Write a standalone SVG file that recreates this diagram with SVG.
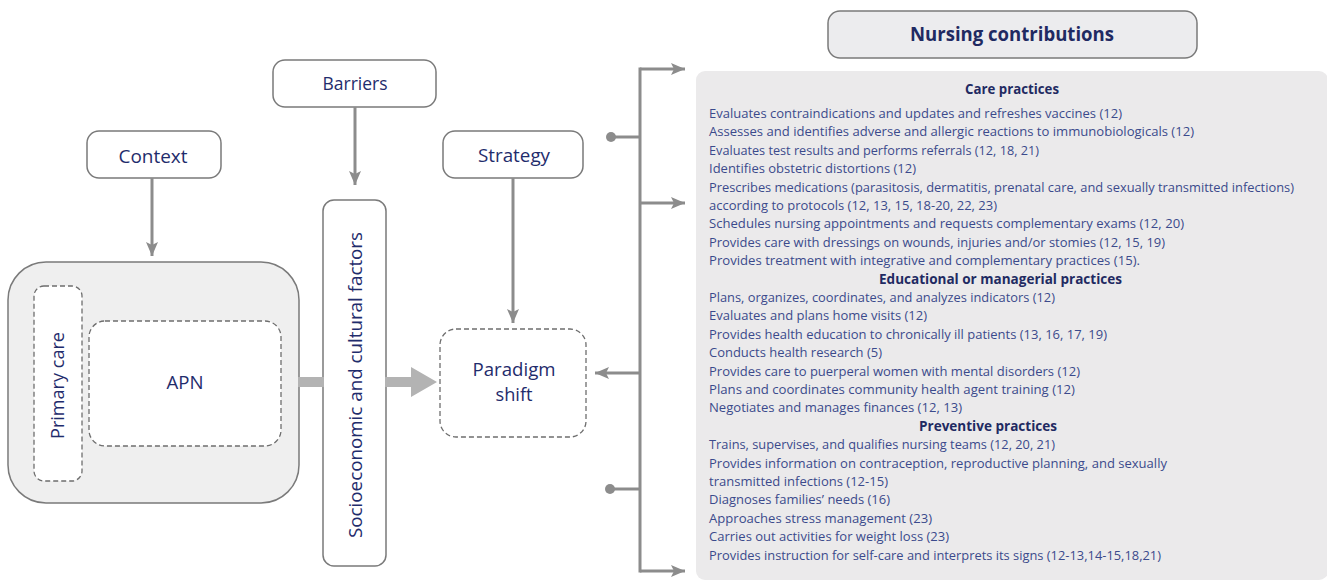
<svg xmlns="http://www.w3.org/2000/svg" width="1327" height="581" viewBox="0 0 1327 581">
<defs>
<style>
.box{fill:#fff;stroke:#7a7a7a;stroke-width:1.5}
.dash{fill:#fff;stroke:#6e6e6e;stroke-width:1.3;stroke-dasharray:5 3}
.lbl{font-family:"Open Sans","Liberation Sans",sans-serif;font-size:19px;fill:#1f2c6c;text-anchor:middle}
.con{fill:none;stroke:#8c8c8c;stroke-width:3}
.item{font-family:"Open Sans","Liberation Sans",sans-serif;font-size:13.5px;fill:#3b4a8c}
.hd{font-family:"Open Sans","Liberation Sans",sans-serif;font-size:13.5px;font-weight:bold;fill:#1f2a62;text-anchor:middle}
</style>
<marker id="ah" viewBox="0 0 14 12" markerWidth="14" markerHeight="12" refX="14" refY="6" orient="auto" markerUnits="userSpaceOnUse">
<path d="M0,0 L14,6 L0,12 L3,6 z" fill="#8c8c8c"/>
</marker>
</defs>
<rect width="1327" height="581" fill="#fff"/>

<g id="context-group">
<rect x="8" y="262" width="291" height="241" rx="38" fill="#efefef" stroke="#7a7a7a" stroke-width="1.5"/>
</g>
<g id="primary-care">
<rect class="dash" x="34" y="286" width="48" height="195" rx="10"/>
<text class="lbl" transform="translate(64 385.5) rotate(-90)" x="0" y="0" textLength="107" lengthAdjust="spacingAndGlyphs">Primary care</text>
</g>
<g id="apn">
<rect class="dash" x="89" y="321" width="192" height="125" rx="16"/>
<text class="lbl" x="185" y="389" textLength="37" lengthAdjust="spacingAndGlyphs">APN</text>
</g>
<g id="context">
<rect class="box" x="87" y="131" width="134" height="47" rx="12"/>
<text class="lbl" x="153" y="163" textLength="69" lengthAdjust="spacingAndGlyphs">Context</text>
</g>
<g id="barriers">
<rect class="box" x="273" y="60" width="163" height="47" rx="12"/>
<text class="lbl" x="355" y="90" textLength="65" lengthAdjust="spacingAndGlyphs">Barriers</text>
</g>
<g id="strategy">
<rect class="box" x="443" y="131" width="140" height="47" rx="12"/>
<text class="lbl" x="514" y="162" textLength="72" lengthAdjust="spacingAndGlyphs">Strategy</text>
</g>
<g id="socio">
<rect class="box" x="323" y="200" width="63" height="366" rx="11"/>
<text class="lbl" transform="translate(362 385) rotate(-90)" x="0" y="0" textLength="306" lengthAdjust="spacingAndGlyphs">Socioeconomic and cultural factors</text>
</g>
<g id="paradigm">
<rect class="dash" x="440" y="329" width="146" height="108" rx="16"/>
<text class="lbl" x="514" y="376" textLength="83" lengthAdjust="spacingAndGlyphs">Paradigm</text>
<text class="lbl" x="514" y="401" textLength="37" lengthAdjust="spacingAndGlyphs">shift</text>
</g>
<g id="header">
<rect x="828" y="11" width="369" height="47" rx="12" fill="#ececee" stroke="#7a7a7a" stroke-width="1.5"/>
<text x="1012" y="41" font-family="Open Sans, Liberation Sans, sans-serif" font-size="19" font-weight="bold" fill="#1f2a62" text-anchor="middle" textLength="204" lengthAdjust="spacingAndGlyphs">Nursing contributions</text>
</g>
<g id="panel">
<rect x="696" y="71" width="632" height="509" rx="9" fill="#ebeaeb"/>
<text class="hd" x="1012" y="94" textLength="94" lengthAdjust="spacingAndGlyphs">Care practices</text>
<text class="item" x="709" y="118" textLength="413" lengthAdjust="spacingAndGlyphs">Evaluates contraindications and updates and refreshes vaccines (12)</text>
<text class="item" x="709" y="136.4" textLength="485" lengthAdjust="spacingAndGlyphs">Assesses and identifies adverse and allergic reactions to immunobiologicals (12)</text>
<text class="item" x="709" y="154.8" textLength="330" lengthAdjust="spacingAndGlyphs">Evaluates test results and performs referrals (12, 18, 21)</text>
<text class="item" x="709" y="173.2" textLength="207" lengthAdjust="spacingAndGlyphs">Identifies obstetric distortions (12)</text>
<text class="item" x="709" y="191.6" textLength="585" lengthAdjust="spacingAndGlyphs">Prescribes medications (parasitosis, dermatitis, prenatal care, and sexually transmitted infections)</text>
<text class="item" x="709" y="210" textLength="288" lengthAdjust="spacingAndGlyphs">according to protocols (12, 13, 15, 18-20, 22, 23)</text>
<text class="item" x="709" y="228.4" textLength="475" lengthAdjust="spacingAndGlyphs">Schedules nursing appointments and requests complementary exams (12, 20)</text>
<text class="item" x="709" y="246.8" textLength="456" lengthAdjust="spacingAndGlyphs">Provides care with dressings on wounds, injuries and/or stomies (12, 15, 19)</text>
<text class="item" x="709" y="265.2" textLength="431" lengthAdjust="spacingAndGlyphs">Provides treatment with integrative and complementary practices (15).</text>
<text class="hd" x="1000.5" y="283.6" textLength="243" lengthAdjust="spacingAndGlyphs">Educational or managerial practices</text>
<text class="item" x="709" y="302" textLength="346" lengthAdjust="spacingAndGlyphs">Plans, organizes, coordinates, and analyzes indicators (12)</text>
<text class="item" x="709" y="320.4" textLength="218" lengthAdjust="spacingAndGlyphs">Evaluates and plans home visits (12)</text>
<text class="item" x="709" y="338.8" textLength="398" lengthAdjust="spacingAndGlyphs">Provides health education to chronically ill patients (13, 16, 17, 19)</text>
<text class="item" x="709" y="357.2" textLength="173" lengthAdjust="spacingAndGlyphs">Conducts health research (5)</text>
<text class="item" x="709" y="375.6" textLength="371" lengthAdjust="spacingAndGlyphs">Provides care to puerperal women with mental disorders (12)</text>
<text class="item" x="709" y="394" textLength="366" lengthAdjust="spacingAndGlyphs">Plans and coordinates community health agent training (12)</text>
<text class="item" x="709" y="412.4" textLength="253" lengthAdjust="spacingAndGlyphs">Negotiates and manages finances (12, 13)</text>
<text class="hd" x="988" y="430.8" textLength="138" lengthAdjust="spacingAndGlyphs">Preventive practices</text>
<text class="item" x="709" y="449.2" textLength="346" lengthAdjust="spacingAndGlyphs">Trains, supervises, and qualifies nursing teams (12, 20, 21)</text>
<text class="item" x="709" y="467.6" textLength="458" lengthAdjust="spacingAndGlyphs">Provides information on contraception, reproductive planning, and sexually</text>
<text class="item" x="709" y="486" textLength="179" lengthAdjust="spacingAndGlyphs">transmitted infections (12-15)</text>
<text class="item" x="709" y="504.4" textLength="181" lengthAdjust="spacingAndGlyphs">Diagnoses families’ needs (16)</text>
<text class="item" x="709" y="522.8" textLength="223" lengthAdjust="spacingAndGlyphs">Approaches stress management (23)</text>
<text class="item" x="709" y="541.2" textLength="240" lengthAdjust="spacingAndGlyphs">Carries out activities for weight loss (23)</text>
<text class="item" x="709" y="559.6" textLength="452" lengthAdjust="spacingAndGlyphs">Provides instruction for self-care and interprets its signs (12-13,14-15,18,21)</text>
</g>

<g id="connectors">
<path class="con" d="M152,178 V256" marker-end="url(#ah)"/>
<path class="con" d="M355,107 V185" marker-end="url(#ah)"/>
<path class="con" d="M513,178 V323" marker-end="url(#ah)"/>
<rect x="298" y="377" width="26" height="10" fill="#b3b3b3"/>
<path d="M385,377 H411 V367 L437,382 L411,397 V387 H385 z" fill="#b3b3b3"/>
<path class="con" d="M640,67.5 V572.5"/>
<path class="con" d="M640,69 H685" marker-end="url(#ah)"/>
<path class="con" d="M640,203 H685" marker-end="url(#ah)"/>
<path class="con" d="M640,571 H685" marker-end="url(#ah)"/>
<path class="con" d="M640,373 H595" marker-end="url(#ah)"/>
<path class="con" d="M611,137 H640"/>
<circle cx="611" cy="137" r="5" fill="#8c8c8c"/>
<path class="con" d="M610,489 H640"/>
<circle cx="610" cy="489" r="5" fill="#8c8c8c"/>
</g>
</svg>
